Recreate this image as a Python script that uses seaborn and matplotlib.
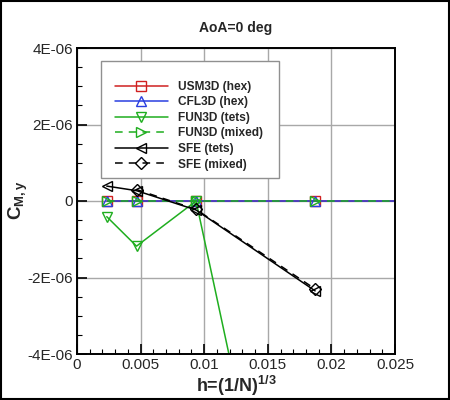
import numpy as np
import pandas as pd
import matplotlib
matplotlib.use("Agg")
import matplotlib.pyplot as plt
import seaborn as sns
from matplotlib.patches import Rectangle
from matplotlib.ticker import MultipleLocator

# grid spacing h=(1/N)^(1/3)
h5 = [0.00234, 0.00468, 0.00936, 0.01872, 0.03744]
h4 = [0.00234, 0.00468, 0.00936, 0.01872]
h3 = [0.00468, 0.00936, 0.01872]

usm3d_hex = [0.0, 0.0, 0.0, 0.0, 0.0]
cfl3d_hex = [0.0, 0.0, 0.0, 0.0, 0.0]
fun3d_tets = [-4.1e-7, -1.18e-6, 0.0, -1.45e-5]
fun3d_mixed = [0.0, 0.0, 0.0, 0.0, 0.0]
sfe_tets = [3.9e-7, 2.7e-7, -2.35e-7, -2.35e-6]
sfe_mixed = [3.0e-7, -2.2e-7, -2.3e-6]

series = [
    ("USM3D (hex)", h5, usm3d_hex, "#d02020", "s", "-"),
    ("CFL3D (hex)", h5, cfl3d_hex, "#2a3ee0", "^", "-"),
    ("FUN3D (tets)", h4, fun3d_tets, "#1fae1f", "v", "-"),
    ("FUN3D (mixed)", h5, fun3d_mixed, "#1fae1f", ">", "--"),
    ("SFE (tets)", h4, sfe_tets, "black", "<", "-"),
    ("SFE (mixed)", h3, sfe_mixed, "black", "D", "--"),
]

sns.set_style("ticks")
plt.rcParams["font.family"] = ["Liberation Sans", "DejaVu Sans"]
plt.rcParams["mathtext.fontset"] = "custom"
plt.rcParams["mathtext.rm"] = "Liberation Sans"
plt.rcParams["mathtext.bf"] = "Liberation Sans:bold"
plt.rcParams["mathtext.it"] = "Liberation Sans:italic"

fig = plt.figure(figsize=(4.5, 4.0), dpi=100)
ax = fig.add_axes([77 / 450, 46 / 400, 318 / 450, 306 / 400])

for name, xs, ys, col, mk, ls in series:
    df = pd.DataFrame({"h": xs, "cm": ys})
    ms = 6 if mk == "D" else 7
    sns.lineplot(data=df, x="h", y="cm", ax=ax, color=col, marker=mk,
                 markersize=ms, markerfacecolor="none", markeredgecolor=col,
                 markeredgewidth=1.0, linewidth=1.1, linestyle=ls,
                 label=name, sort=False)
    if ls == "--":
        ax.lines[-1].set_dashes((5, 4))

ax.set_xlim(0, 0.025)
ax.set_ylim(-4e-6, 4e-6)
ax.set_xticks([0, 0.005, 0.01, 0.015, 0.02, 0.025])
ax.set_xticklabels(["0", "0.005", "0.01", "0.015", "0.02", "0.025"])
ax.set_yticks([-4e-6, -2e-6, 0, 2e-6, 4e-6])
ax.set_yticklabels(["-4E-06", "-2E-06", "0", "2E-06", "4E-06"])
ax.xaxis.set_minor_locator(MultipleLocator(0.001))
ax.yaxis.set_minor_locator(MultipleLocator(5e-7))
ax.tick_params(which="both", direction="in", labelsize=11, color="black",
               top=False, right=False, pad=3)
ax.tick_params(which="major", length=7, width=1.2)
ax.tick_params(which="minor", length=3.5, width=0.8)
ax.grid(True, which="major", color="#a8a8a8", linewidth=1.0)
ax.set_axisbelow(True)
for sp in ax.spines.values():
    sp.set_color("black")
    sp.set_linewidth(1.4)
ax.set_xlabel("")
ax.set_ylabel("")

# legend box drawn separately so its size matches
ax.add_patch(Rectangle((0.0755, 0.575), 0.5595, 0.3825, transform=ax.transAxes,
                       facecolor="white", edgecolor="#909090", linewidth=1.0,
                       zorder=4))
leg = ax.legend(loc="upper left", bbox_to_anchor=(0.118, 0.893),
                borderaxespad=0, frameon=False, borderpad=0,
                handlelength=4.5, handletextpad=0.83, labelspacing=0.3,
                prop={"weight": "bold", "size": 8.6})
leg.set_zorder(5)

fig.text(236 / 450, 1 - 28 / 400, "AoA=0 deg", ha="center", va="center",
         fontsize=10, fontweight="bold")
fig.text(236 / 450, 1 - 386 / 400, r"h=(1/N)$^{\mathbf{1/3}}$",
         ha="center", va="center", fontsize=13, fontweight="bold")
fig.text(18 / 450, 0.5, r"$\mathbf{C_{M,y}}$", ha="center", va="center",
         rotation=90, fontsize=13.5)

fig.patches.append(Rectangle((0.002, 0.002), 0.996, 0.996, transform=fig.transFigure,
                             fill=False, edgecolor="black", linewidth=1.5))

fig.savefig("out.png", dpi=100)
